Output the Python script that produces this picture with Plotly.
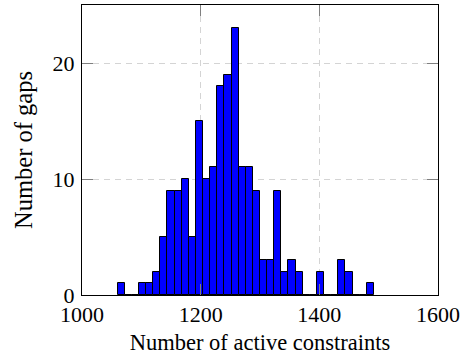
import plotly.graph_objects as go

# Histogram data
bin_start = 1060.0
bin_width = 12.0
counts = [1, 0, 0, 1, 1, 2, 5, 9, 9, 10, 5, 15, 10, 11, 18, 19, 23, 11,
          11, 9, 3, 3, 9, 2, 3, 2, 0, 0, 2, 0, 0, 3, 2, 0, 0, 1]
x_ticks = [1000, 1200, 1400, 1600]
y_ticks = [0, 10, 20]
x_title = "Number of active constraints"
y_title = "Number of gaps"

centers = [bin_start + bin_width * (i + 0.5) for i in range(len(counts))]

fig = go.Figure()
fig.add_trace(go.Bar(
    x=centers, y=counts, width=[bin_width] * len(counts),
    marker=dict(color="#0000ff", line=dict(color="black", width=1)),
    showlegend=False,
))

font = "Liberation Serif, Times New Roman, serif"
axis_common = dict(
    showline=True, linecolor="black", linewidth=1, mirror="ticks",
    ticks="inside", ticklen=11, tickwidth=1.3, tickcolor="#7f7f7f",
    showgrid=True, gridcolor="#d4d4d4", gridwidth=1, griddash="6px,5px",
    zeroline=False,
    tickfont=dict(family=font, size=22, color="black"),
)

fig.update_layout(
    width=469, height=356,
    margin=dict(l=82, r=31, t=5, b=61),
    paper_bgcolor="white", plot_bgcolor="white",
    bargap=0,
    xaxis=dict(range=[1000, 1600], tickvals=x_ticks, ticklabelstandoff=0,
               title=dict(text=x_title, font=dict(family=font, size=22.5, color="black"), standoff=7),
               **axis_common),
    yaxis=dict(range=[0, 25], tickvals=y_ticks, ticklabelstandoff=2,
               title=dict(text=y_title, font=dict(family=font, size=24.5, color="black"), standoff=13),
               **axis_common),
)

fig.write_html("out.html")
